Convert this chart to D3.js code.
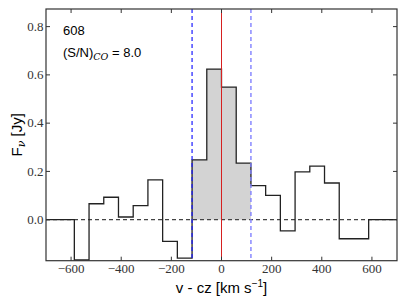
<!DOCTYPE html>
<html>
<head>
<meta charset="utf-8">
<script src="https://cdn.jsdelivr.net/npm/d3@7"></script>
<style>
  body { margin: 0; background: #fff; }
  svg { display: block; }
  .tick-label { font-family: "Liberation Serif", serif; font-size: 13px; fill: #333; }
  .sans { font-family: "Liberation Sans", Arial, sans-serif; fill: #000; }
</style>
</head>
<body>
<svg id="chart" width="406" height="305"></svg>
<script>
// channel edges (km/s) and flux per channel (Jy)
var velEdges = [-704.4, -645.7, -587.0, -528.3, -469.6, -410.9, -352.2, -293.5, -234.8, -176.1, -117.4, -58.7,
                0, 58.7, 117.4, 176.1, 234.8, 293.5, 352.2, 410.9, 469.6, 528.3, 587.0, 645.7, 704.4];
var flux = [0, 0, -0.167, 0.066, 0.093, 0.011, 0.058, 0.165, -0.090, -0.159, 0.248, 0.624,
            0.549, 0.234, 0.141, 0.101, -0.046, 0.198, 0.222, 0.152, -0.079, -0.079, 0, 0];
var lineWindow = [-117.4, 117.4];
var xTicks = [-600, -400, -200, 0, 200, 400, 600];
var yTicks = [0.0, 0.2, 0.4, 0.6, 0.8];
var sourceId = "608";
var snr = "8.0";

var margin = { top: 9, left: 46, bottom: 44.3, right: 9 };
var width = 406, height = 305;
var w = width - margin.left - margin.right;
var h = height - margin.top - margin.bottom;

var x = d3.scaleLinear().domain([-700, 700]).range([0, w]);
var y = d3.scaleLinear().domain([-0.17, 0.873]).range([h, 0]);

var svg = d3.select("#chart");
var g = svg.append("g")
    .attr("transform", "translate(" + margin.left + "," + margin.top + ")");

g.append("clipPath").attr("id", "clip")
  .append("rect").attr("width", w).attr("height", h);

var plot = g.append("g").attr("clip-path", "url(#clip)");

// step points
var pts = flux.map(function(f, i) { return [velEdges[i], f]; });
pts.push([velEdges[velEdges.length - 1], flux[flux.length - 1]]);

// shaded line window
var shade = [];
flux.forEach(function(f, i) {
  if (velEdges[i] >= lineWindow[0] - 1 && velEdges[i + 1] <= lineWindow[1] + 1) {
    shade.push([velEdges[i], f]);
    shade.push([velEdges[i + 1], f]);
  }
});
plot.append("path")
  .datum(shade)
  .attr("fill", "#d3d3d3")
  .attr("d", d3.area().x(function(d) { return x(d[0]); }).y0(y(0)).y1(function(d) { return y(d[1]); }));

// zero line
plot.append("line")
  .attr("x1", 0).attr("x2", w).attr("y1", y(0)).attr("y2", y(0))
  .attr("stroke", "#444").attr("stroke-width", 1.2).attr("stroke-dasharray", "4,3");

// step spectrum
plot.append("path")
  .datum(pts)
  .attr("fill", "none")
  .attr("stroke", "#222")
  .attr("stroke-width", 1.3)
  .attr("d", d3.line().curve(d3.curveStepAfter).x(function(d) { return x(d[0]); }).y(function(d) { return y(d[1]); }));

// velocity window lines
plot.append("line")
  .attr("x1", x(lineWindow[0])).attr("x2", x(lineWindow[0])).attr("y1", 0).attr("y2", h)
  .attr("stroke", "#1a1aff").attr("stroke-width", 1.2).attr("stroke-dasharray", "4,3");
plot.append("line")
  .attr("x1", x(lineWindow[1])).attr("x2", x(lineWindow[1])).attr("y1", 0).attr("y2", h)
  .attr("stroke", "#8080ff").attr("stroke-width", 1.4).attr("stroke-dasharray", "4,3");

// systemic velocity
plot.append("line")
  .attr("x1", x(0)).attr("x2", x(0)).attr("y1", 0).attr("y2", h)
  .attr("stroke", "#d62020").attr("stroke-width", 1);

// frame
g.append("rect").attr("width", w).attr("height", h)
  .attr("fill", "none").attr("stroke", "#333").attr("stroke-width", 1.2);

// ticks (inside, all four sides)
var tl = 4;
xTicks.forEach(function(t) {
  g.append("line").attr("x1", x(t)).attr("x2", x(t)).attr("y1", h).attr("y2", h - tl).attr("stroke", "#333");
  g.append("line").attr("x1", x(t)).attr("x2", x(t)).attr("y1", 0).attr("y2", tl).attr("stroke", "#333");
  g.append("text").attr("class", "tick-label")
    .attr("x", x(t)).attr("y", h + 12.5).attr("text-anchor", "middle")
    .text(d3.format(".0f")(t).replace("-", "\u2212"));
});
yTicks.forEach(function(t) {
  g.append("line").attr("x1", 0).attr("x2", tl).attr("y1", y(t)).attr("y2", y(t)).attr("stroke", "#333");
  g.append("line").attr("x1", w).attr("x2", w - tl).attr("y1", y(t)).attr("y2", y(t)).attr("stroke", "#333");
  g.append("text").attr("class", "tick-label")
    .attr("x", -2.5).attr("y", y(t)).attr("dy", "0.33em").attr("text-anchor", "end")
    .text(d3.format(".1f")(t));
});

// annotations
g.append("text").attr("class", "sans").attr("x", 17).attr("y", 25.5)
  .style("font-size", "13px").text(sourceId);
var sn = g.append("text").attr("class", "sans").attr("x", 17).attr("y", 48)
  .style("font-size", "13px");
sn.append("tspan").text("(S/N)");
sn.append("tspan").attr("dy", 3).style("font-family", "DejaVu Serif, serif")
  .style("font-style", "italic").style("font-size", "9.5px").text("CO");
sn.append("tspan").attr("dy", -3).text(" = " + snr);

// axis labels
var xl = svg.append("text").attr("class", "sans")
  .attr("x", margin.left + x(0)).attr("y", 293)
  .attr("text-anchor", "middle").style("font-size", "15px");
xl.append("tspan").text("v - cz [km s");
xl.append("tspan").attr("dy", -6).style("font-size", "10px").text("\u22121");
xl.append("tspan").attr("dy", 6).text("]");

var yl = svg.append("text").attr("class", "sans")
  .attr("transform", "translate(22," + (margin.top + h / 2) + ") rotate(-90)")
  .attr("text-anchor", "middle").style("font-size", "15px");
yl.append("tspan").text("F");
yl.append("tspan").attr("dy", 3).style("font-family", "DejaVu Serif, serif")
  .style("font-style", "italic").style("font-size", "11px").text("\u03bd");
yl.append("tspan").attr("dy", -3).text(" [Jy]");
</script>
</body>
</html>
